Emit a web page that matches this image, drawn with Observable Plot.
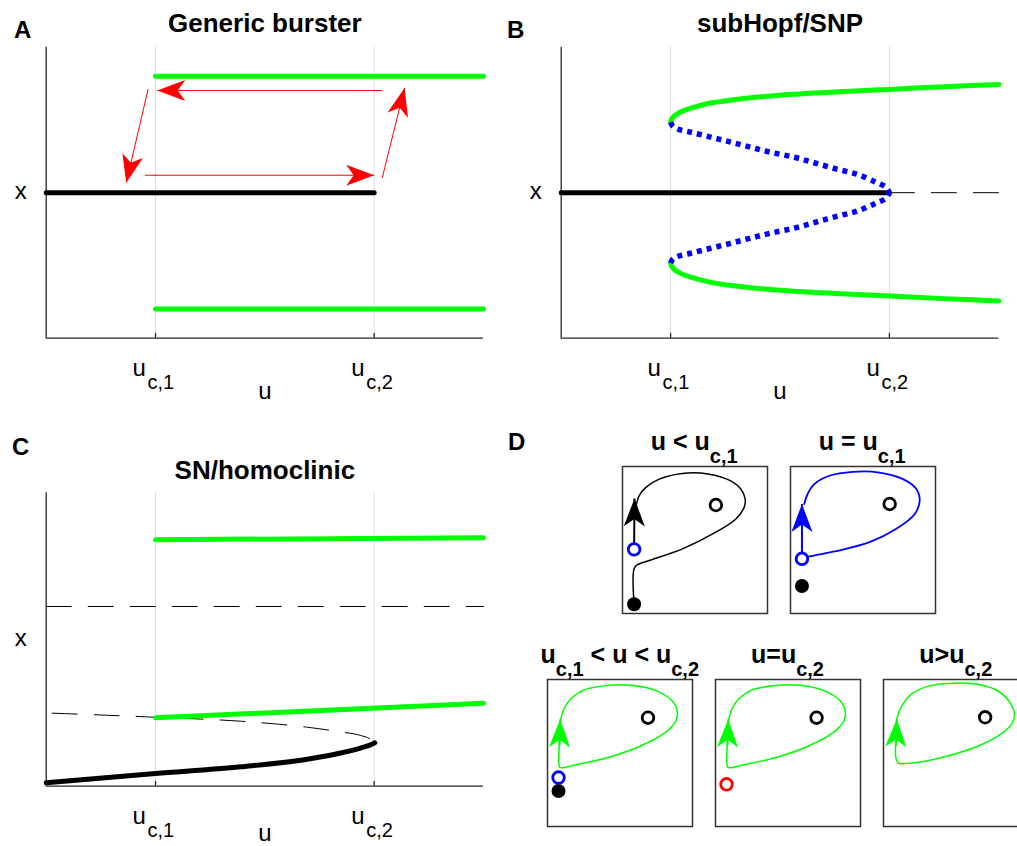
<!DOCTYPE html>
<html><head><meta charset="utf-8">
<script src="https://cdn.jsdelivr.net/npm/d3@7"></script>
<script src="https://cdn.jsdelivr.net/npm/@observablehq/plot@0.6"></script>
<style>
body{margin:0;background:#fff;}
#fig{position:relative;width:1017px;height:846px;overflow:hidden;background:#fff;font-family:"Liberation Sans",Arial,Helvetica,sans-serif;color:#000;}
.pl{position:absolute;}
.letter{position:absolute;font-weight:bold;font-size:24px;line-height:24px;}
.it{position:absolute;font-weight:bold;font-size:25px;line-height:25px;white-space:nowrap;transform:translateX(-50%);}
.it .s{position:relative;top:13px;font-size:20px;}
</style></head>
<body><div id="fig"></div>
<script>
// ---------- data ----------
const ucTicks = [1, 3];
const ucSubs = ["c,1", "c,2"];

// Panel A: generic burster
const aRest = [[0, 0.5], [3, 0.5]];
const aCycleUpper = [[1, 0.9], [4, 0.9]];
const aCycleLower = [[1, 0.1], [4, 0.1]];
// arrows: [x1, y1, x2, y2]
const aArrows = [[3.074, 0.851, 1.016, 0.851], [0.902, 0.560, 3.0, 0.560], [0.933, 0.857, 0.732, 0.534], [3.074, 0.551, 3.278, 0.860]];

// Panel B: subHopf/SNP
const bRestStable = [[0, 0.5], [3, 0.5]];
const bRestUnstable = [[3, 0.5], [4, 0.5]];
const bCycleUpper = [[1.0,0.742],[1.01,0.753],[1.035,0.764],[1.07,0.773],[1.122,0.782],[1.2,0.792],[1.366,0.808],[1.671,0.824],[2.0,0.835],[2.5,0.846],[3.0,0.855],[3.5,0.864],[4.0,0.872]];
const bCycleLower = [[1.0,0.258],[1.01,0.247],[1.035,0.236],[1.07,0.227],[1.122,0.218],[1.2,0.208],[1.366,0.192],[1.671,0.176],[2.0,0.165],[2.5,0.154],[3.0,0.145],[3.5,0.136],[4.0,0.128]];
const bUnstUpper = [[1.0,0.742],[1.017,0.730],[1.056,0.720],[1.183,0.708],[1.366,0.691],[1.549,0.674],[1.732,0.656],[1.915,0.639],[2.128,0.622],[2.311,0.603],[2.51,0.582],[2.708,0.563],[2.876,0.536],[2.967,0.519],[3.0,0.5]];
const bUnstLower = [[1.0,0.258],[1.017,0.270],[1.056,0.280],[1.183,0.292],[1.366,0.309],[1.549,0.326],[1.732,0.344],[1.915,0.361],[2.128,0.378],[2.311,0.397],[2.51,0.418],[2.708,0.437],[2.876,0.464],[2.967,0.481],[3.0,0.5]];

// Panel C: SN/homoclinic
const cCycleUpper = [[1, 0.840], [4, 0.847]];
const cCycleLower = [[1, 0.233], [4, 0.283]];
const cUpperUnstable = [[0, 0.6125], [4, 0.6125]];
const cSaddle = [[0.055,0.249],[1,0.235],[1.778,0.2215],[2.388,0.201],[2.693,0.185],[2.876,0.173],[2.967,0.160],[3.006,0.148]];
const cNode = [[0,0.012],[1,0.043],[1.778,0.066],[2.388,0.092],[2.693,0.113],[2.876,0.130],[2.96,0.140],[3.006,0.148]];

// Panel D insets (unit box coordinates)
const d1Traj = [[0.080,0.063],[0.080,0.305],[0.103,0.332],[0.184,0.361],[0.414,0.440],[0.644,0.553],[0.782,0.643],[0.839,0.722],[0.846,0.779],[0.816,0.847],[0.736,0.907],[0.598,0.948],[0.414,0.953],[0.253,0.914],[0.161,0.858],[0.115,0.801],[0.092,0.722]];
const d2Homoclinic = [[0.079,0.372],[0.129,0.388],[0.314,0.424],[0.545,0.485],[0.730,0.576],[0.857,0.677],[0.891,0.767],[0.868,0.847],[0.776,0.914],[0.614,0.959],[0.430,0.964],[0.268,0.937],[0.164,0.880],[0.118,0.813],[0.095,0.745]];
const dCycle = [[0.083,0.593],[0.088,0.706],[0.111,0.796],[0.157,0.864],[0.249,0.928],[0.411,0.959],[0.596,0.959],[0.757,0.921],[0.861,0.853],[0.896,0.778],[0.885,0.717],[0.804,0.633],[0.642,0.548],[0.411,0.468],[0.180,0.416],[0.099,0.400],[0.083,0.405]];
const d5Cycle = [[0.085,0.595],[0.092,0.732],[0.126,0.823],[0.195,0.902],[0.310,0.955],[0.471,0.975],[0.632,0.970],[0.770,0.932],[0.862,0.857],[0.903,0.766],[0.885,0.698],[0.793,0.618],[0.632,0.539],[0.402,0.470],[0.195,0.432],[0.103,0.432],[0.085,0.470]];

const insetTitles = [
  {main: "u < u", sub: "c,1"},
  {main: "u = u", sub: "c,1"},
  {main: "u", sub: "c,1", main2: " < u < u", sub2: "c,2"},
  {main: "u=u", sub: "c,2"},
  {main: "u>u", sub: "c,2"}
];

// ---------- helpers ----------
const FONT = "'Liberation Sans', Arial, Helvetica, sans-serif";
const GREEN = "#00ff00", BLUE = "#0000ff", RED = "#ff0000";
const pts = a => a.map(([x, y]) => ({x, y}));
const arrowHead = {draw(ctx) { ctx.moveTo(0, 0); ctx.lineTo(-10.5, 28); ctx.lineTo(0, 20.5); ctx.lineTo(10.5, 28); ctx.closePath(); }};
const fig = document.getElementById("fig");

function place(el, left, top) { el.classList.add("pl"); el.style.left = left + "px"; el.style.top = top + "px"; fig.appendChild(el); }

function arrowMarks(arrows, kx, ky, color, sw) {
  const data = arrows.map(([x1, y1, x2, y2]) => ({x1, y1, x2, y2}));
  return [
    Plot.link(data, {x1: "x1", y1: "y1", x2: "x2", y2: "y2", stroke: color, strokeWidth: sw}),
    Plot.dot(data, {x: "x2", y: "y2", symbol: arrowHead, fill: color, stroke: "none",
      rotate: d => Math.atan2((d.x2 - d.x1) * kx, (d.y2 - d.y1) * ky) * 180 / Math.PI})
  ];
}

function bifPanel({width, height, mt, mb, ml, mr, title, titleDy, labelDy, marks}) {
  return Plot.plot({
    width, height, marginTop: mt, marginBottom: mb, marginLeft: ml, marginRight: mr,
    x: {domain: [0, 4], axis: null}, y: {domain: [0, 1], axis: null},
    style: {fontFamily: FONT, fontSize: "24px", background: "transparent", overflow: "visible", color: "#000"},
    marks: [
      Plot.ruleX(ucTicks, {stroke: "#dcdcdc", strokeWidth: 1}),
      Plot.ruleX([0], {stroke: "#262626", strokeWidth: 1.3}),
      Plot.ruleY([0], {stroke: "#262626", strokeWidth: 1.3}),
      Plot.ruleX(ucTicks, {y1: 0, y2: 0.016, stroke: "#262626", strokeWidth: 1.3}),
      ...marks,
      Plot.text(ucTicks, {x: d => d, text: () => "u", frameAnchor: "bottom", lineAnchor: "bottom", textAnchor: "start", dx: -23, dy: 37.3, fontSize: 24}),
      Plot.text(ucTicks, {x: d => d, text: (d, i) => ucSubs[i], frameAnchor: "bottom", lineAnchor: "bottom", textAnchor: "start", dx: -8, dy: 50.3, fontSize: 20}),
      Plot.text(["u"], {text: d => d, frameAnchor: "bottom", lineAnchor: "bottom", dy: labelDy, fontSize: 24}),
      Plot.text(["x"], {text: d => d, frameAnchor: "left", textAnchor: "middle", lineAnchor: "middle", dx: -25.4, dy: -1.4, fontSize: 24}),
      Plot.text([title], {text: d => d, frameAnchor: "top", lineAnchor: "bottom", dy: titleDy, fontSize: 26, fontWeight: "bold"})
    ]
  });
}

// ---------- Panel A ----------
{
  const W = 500, H = 420, mt = 46.7, mb = 82.3, ml = 45.7, mr = 17;
  const kx = (W - ml - mr) / 4, ky = H - mt - mb;
  const p = bifPanel({width: W, height: H, mt, mb, ml, mr, title: "Generic burster", titleDy: -15, labelDy: 60.6, marks: [
    Plot.line(pts(aCycleUpper), {x: "x", y: "y", stroke: GREEN, strokeWidth: 5}),
    Plot.line(pts(aCycleLower), {x: "x", y: "y", stroke: GREEN, strokeWidth: 5}),
    Plot.line(pts(aRest), {x: "x", y: "y", stroke: "#000", strokeWidth: 5}),
    ...arrowMarks(aArrows, kx, ky, RED, 1)
  ]});
  place(p, 0, 0);
}
// ---------- Panel B ----------
{
  const W = 500, H = 420, mt = 46.7, mb = 82.3, ml = 45.7, mr = 16.7;
  const p = bifPanel({width: W, height: H, mt, mb, ml, mr, title: "subHopf/SNP", titleDy: -15, labelDy: 60.6, marks: [
    Plot.line(pts(bRestUnstable), {x: "x", y: "y", stroke: "#000", strokeWidth: 1, strokeDasharray: "25,17"}),
    Plot.line(pts(bRestStable), {x: "x", y: "y", stroke: "#000", strokeWidth: 5}),
    Plot.line(pts(bCycleUpper), {x: "x", y: "y", stroke: GREEN, strokeWidth: 5, curve: "catmull-rom"}),
    Plot.line(pts(bCycleLower), {x: "x", y: "y", stroke: GREEN, strokeWidth: 5, curve: "catmull-rom"}),
    Plot.line(pts(bUnstUpper), {x: "x", y: "y", stroke: BLUE, strokeWidth: 5.5, strokeDasharray: "5,5", strokeLinecap: "butt", curve: "catmull-rom"}),
    Plot.line(pts(bUnstLower), {x: "x", y: "y", stroke: BLUE, strokeWidth: 5.5, strokeDasharray: "5,5", strokeLinecap: "butt", curve: "catmull-rom"})
  ]});
  place(p, 515, 0);
}
// ---------- Panel C ----------
{
  const W = 500, H = 426, mt = 72.3, mb = 60.3, ml = 45.7, mr = 17;
  const p = bifPanel({width: W, height: H, mt, mb, ml, mr, title: "SN/homoclinic", titleDy: -14, labelDy: 54.3, marks: [
    Plot.line(pts(cUpperUnstable), {x: "x", y: "y", stroke: "#000", strokeWidth: 1, strokeDasharray: "25,17"}),
    Plot.line(pts(cSaddle), {x: "x", y: "y", stroke: "#000", strokeWidth: 1, strokeDasharray: "25,17", curve: "monotone-x"}),
    Plot.line(pts(cNode), {x: "x", y: "y", stroke: "#000", strokeWidth: 5, curve: "monotone-x"}),
    Plot.line(pts(cCycleUpper), {x: "x", y: "y", stroke: GREEN, strokeWidth: 5}),
    Plot.line(pts(cCycleLower), {x: "x", y: "y", stroke: GREEN, strokeWidth: 5})
  ]});
  place(p, 0, 420);
}
// ---------- Panel D insets ----------
const IW = 145, IH = 147;
function inset(marks) {
  return Plot.plot({
    width: IW, height: IH, margin: 0,
    x: {domain: [0, 1], axis: null}, y: {domain: [0, 1], axis: null},
    style: {background: "transparent", overflow: "visible"},
    marks: [Plot.frame({stroke: "#333", strokeWidth: 1.5}), ...marks]
  });
}
const openDot = (a, color) => Plot.dot(pts(a), {x: "x", y: "y", r: 5.8, stroke: color, strokeWidth: 2.8, fill: "white"});
const fullDot = a => Plot.dot(pts(a), {x: "x", y: "y", r: 7, fill: "#000"});
const insetPos = [[621.7, 465.7], [789.7, 465.7], [547.3, 679], [715, 679], [883.3, 679]];
const insets = [
  [Plot.line(pts(d1Traj), {x: "x", y: "y", stroke: "#000", strokeWidth: 1.5, curve: "catmull-rom"}),
   ...arrowMarks([[0.080, 0.45, 0.083, 0.783]], IW, IH, "#000", 2),
   fullDot([[0.080, 0.063]]), openDot([[0.080, 0.436]], BLUE), openDot([[0.644, 0.738]], "#000")],
  [Plot.line(pts(d2Homoclinic), {x: "x", y: "y", stroke: BLUE, strokeWidth: 1.8, curve: "catmull-rom"}),
   ...arrowMarks([[0.079, 0.40, 0.079, 0.745]], IW, IH, BLUE, 2),
   fullDot([[0.079, 0.187]]), openDot([[0.079, 0.372]], BLUE), openDot([[0.684, 0.745]], "#000")],
  [Plot.line(pts(dCycle), {x: "x", y: "y", stroke: GREEN, strokeWidth: 1.5, curve: "catmull-rom-closed"}),
   ...arrowMarks([[0.083, 0.55, 0.088, 0.729]], IW, IH, GREEN, 2),
   fullDot([[0.076, 0.242]]), openDot([[0.076, 0.333]], BLUE), openDot([[0.693, 0.740]], "#000")],
  [Plot.line(pts(dCycle), {x: "x", y: "y", stroke: GREEN, strokeWidth: 1.5, curve: "catmull-rom-closed"}),
   ...arrowMarks([[0.083, 0.55, 0.088, 0.729]], IW, IH, GREEN, 2),
   openDot([[0.076, 0.287]], RED), openDot([[0.697, 0.740]], "#000")],
  [Plot.line(pts(d5Cycle), {x: "x", y: "y", stroke: GREEN, strokeWidth: 1.5, curve: "catmull-rom-closed"}),
   ...arrowMarks([[0.085, 0.55, 0.092, 0.732]], IW, IH, GREEN, 2),
   openDot([[0.701, 0.743]], "#000")]
];
insets.forEach((m, i) => {
  place(inset(m), insetPos[i][0], insetPos[i][1]);
  const t = insetTitles[i];
  const div = document.createElement("div");
  div.className = "it";
  div.append(t.main);
  const s = document.createElement("span"); s.className = "s"; s.textContent = t.sub; div.append(s);
  if (t.main2) { div.append(t.main2); const s2 = document.createElement("span"); s2.className = "s"; s2.textContent = t.sub2; div.append(s2); }
  div.style.left = (insetPos[i][0] + IW / 2) + "px";
  div.style.top = (insetPos[i][1] - 15.7 - 21.2) + "px";
  fig.appendChild(div);
});

// panel letters
[["A", 14, 18], ["B", 507, 18], ["C", 12, 434.7], ["D", 508, 429.7]].forEach(([t, x, y]) => {
  const d = document.createElement("div"); d.className = "letter"; d.textContent = t;
  d.style.left = x + "px"; d.style.top = y + "px"; fig.appendChild(d);
});
</script>
</body></html>
